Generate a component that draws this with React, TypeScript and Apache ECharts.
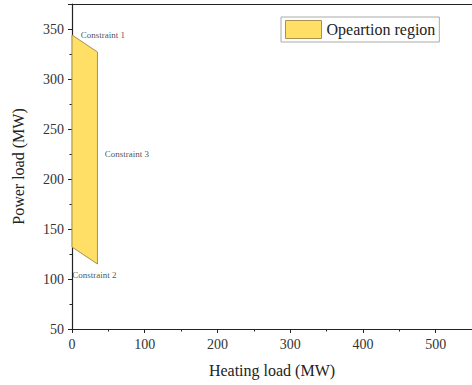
import React, { useEffect, useRef } from "react";
import * as echarts from "echarts";

const heatPoints = [0, 35, 35, 0];
const powerPoints = [344, 327, 115, 132];
const regionName = "Opeartion region";

const constraintNames = ["Constraint 1", "Constraint 3", "Constraint 2"];
const constraintHeat = [12, 45, 0.5];
const constraintPower = [344, 225, 104];

const FONT = "Liberation Serif";
const FILL = "#FFDF66";
const EDGE = "#a8924e";

export default function App() {
  const ref = useRef<HTMLDivElement>(null);
  useEffect(() => {
    if (!ref.current) return;
    const chart = echarts.init(ref.current, undefined, { renderer: "svg" });
    const regionData = heatPoints.map((h, i) => [h, powerPoints[i]]);
    const tickLabel = { fontFamily: FONT, fontSize: 14, color: "#333" };
    chart.setOption({
      animation: false,
      textStyle: { fontFamily: FONT },
      grid: { left: 72, top: 4, width: 403, bottom: 56 },
      legend: {
        left: 281,
        top: 17,
        padding: [3, 4],
        itemWidth: 36,
        itemHeight: 18,
        itemGap: 5,
        borderColor: "#aaa",
        borderWidth: 1,
        textStyle: { fontFamily: FONT, fontSize: 16, color: "#222" },
        data: [
          {
            name: regionName,
            icon: "rect",
            itemStyle: { color: FILL, borderColor: EDGE, borderWidth: 1 },
          },
        ],
      },
      xAxis: [
        {
          type: "value",
          min: 0,
          max: 550,
          interval: 100,
          name: "Heating load (MW)",
          nameLocation: "middle",
          nameGap: 33,
          nameTextStyle: { fontFamily: FONT, fontSize: 16, color: "#222" },
          axisLine: { show: true, lineStyle: { color: "#222", width: 1.2 } },
          axisTick: { show: true, inside: false, length: 4, lineStyle: { color: "#222" } },
          minorTick: { show: true, splitNumber: 2, length: 2.5, lineStyle: { color: "#222" } },
          axisLabel: { ...tickLabel, margin: 8, showMaxLabel: false },
          splitLine: { show: false },
        },
        {
          type: "value",
          position: "top",
          min: 0,
          max: 550,
          axisLine: { show: true, lineStyle: { color: "#222", width: 1.2 } },
          axisTick: { show: false },
          axisLabel: { show: false },
          splitLine: { show: false },
        },
      ],
      yAxis: {
        type: "value",
        min: 50,
        max: 375,
        interval: 50,
        name: "Power load (MW)",
        nameLocation: "middle",
        nameGap: 46,
        nameTextStyle: { fontFamily: FONT, fontSize: 16, color: "#222" },
        axisLine: { show: true, lineStyle: { color: "#222", width: 1.2 } },
        axisTick: { show: true, inside: false, length: 4, lineStyle: { color: "#222" } },
        minorTick: { show: true, splitNumber: 2, length: 2.5, lineStyle: { color: "#222" } },
        axisLabel: { ...tickLabel, margin: 8, showMaxLabel: false },
        splitLine: { show: false },
      },
      series: [
        {
          name: regionName,
          type: "custom",
          xAxisIndex: 0,
          data: regionData,
          itemStyle: { color: FILL },
          renderItem: (params: any, api: any) => {
            if (params.dataIndex !== 0) return null;
            const pts = regionData.map((d) => api.coord(d));
            return {
              type: "polygon",
              shape: { points: pts },
              style: { fill: FILL, stroke: EDGE, lineWidth: 1 },
            };
          },
        },
        {
          name: "labels",
          type: "scatter",
          symbolSize: 0,
          itemStyle: { color: "#222" },
          data: constraintNames.map((n, i) => ({
            name: n,
            value: [constraintHeat[i], constraintPower[i]],
          })),
          label: {
            show: true,
            position: "inside",
            align: "left",
            verticalAlign: "middle",
            formatter: (p: any) => p.name,
            fontFamily: FONT,
            fontSize: 9,
            color: "#222",
          },
          silent: true,
        },
      ],
    });
    return () => chart.dispose();
  }, []);
  return (
    <div
      ref={ref}
      style={{ position: "absolute", left: 0, top: 0, width: 472, height: 385, background: "#fff" }}
    />
  );
}
